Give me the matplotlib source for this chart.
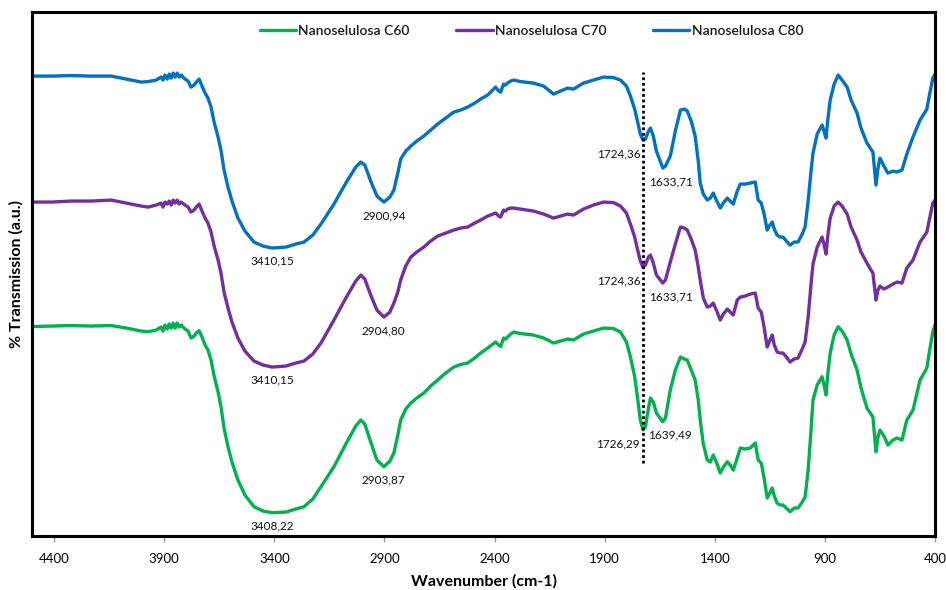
import numpy as np
import matplotlib
matplotlib.use("Agg")
import matplotlib.pyplot as plt

plt.rcParams['font.family'] = ['Lato', 'DejaVu Sans']

# --- FTIR spectra of nanocellulose samples (shared wavenumber grid, cm-1) ---
wavenumber = [
    4495, 4412, 4322, 4231, 4140, 4072, 4004, 3973, 3936, 3914,
    3905, 3896, 3886, 3877, 3868, 3859, 3850, 3841, 3832, 3823,
    3805, 3791, 3778, 3764, 3750, 3741, 3728, 3714, 3701, 3687,
    3673, 3655, 3642, 3628, 3610, 3592, 3565, 3533, 3492, 3451,
    3410, 3347, 3302, 3265, 3225, 3188, 3129, 3075, 3030, 3007,
    2989, 2962, 2934, 2902, 2875, 2857, 2839, 2826, 2803, 2780,
    2753, 2721, 2690, 2658, 2622, 2585, 2554, 2522, 2490, 2463,
    2431, 2395, 2381, 2372, 2359, 2350, 2341, 2327, 2313, 2282,
    2223, 2177, 2132, 2100, 2069, 2041, 2019, 1996, 1951, 1905,
    1860, 1828, 1801, 1783, 1765, 1751, 1738, 1726, 1715, 1701,
    1692, 1679, 1665, 1636, 1624, 1602, 1579, 1556, 1538, 1525,
    1507, 1489, 1475, 1466, 1452, 1434, 1420, 1407, 1393, 1375,
    1361, 1343, 1330, 1316, 1298, 1284, 1262, 1239, 1216, 1203,
    1189, 1176, 1162, 1153, 1139, 1130, 1117, 1103, 1090, 1071,
    1058, 1040, 1022, 1003, 990, 976, 963, 954, 935, 913,
    904, 895, 886, 876, 858, 840, 822, 799, 781, 754,
    736, 709, 691, 682, 675, 668, 659, 650, 632, 614,
    591, 573, 550, 528, 500, 468, 437, 428, 410, 400,
]

trans_c60 = [
    249.5, 250, 250.5, 250, 250.5, 248, 245, 244.3, 246, 249,
    245, 251, 247, 252, 248, 253, 248, 253, 249, 251,
    247, 245, 238, 240, 244, 245.3, 239, 231, 226, 216,
    200, 184, 169.3, 148, 129.3, 114, 96, 81, 69.3, 65,
    63.3, 64, 67, 69.3, 77, 89.3, 109.3, 132, 150, 156,
    152, 134, 116, 109.3, 115, 123, 141, 156, 167, 173,
    178, 183, 190, 196, 203, 209, 211.5, 213, 218, 223,
    228, 234, 231, 229.5, 238, 237, 239, 242, 244, 242.5,
    241, 238, 233, 235, 237, 236, 239, 242, 245, 248,
    247.5, 244, 234, 219, 201, 179, 156, 146, 149, 168,
    178, 174, 163, 154.3, 158, 186, 206, 219, 217, 216,
    206, 196, 176, 156, 132, 116, 114, 121, 114, 103,
    109, 114.3, 111, 106, 118, 128, 127, 128, 133, 116,
    113, 98, 78, 82, 88, 80, 73, 71, 71, 67,
    64.3, 68, 68, 74, 79, 106, 146, 176, 191, 199.3,
    191, 181, 204, 223, 241, 249.3, 245, 236, 222, 206,
    188, 168, 162, 159, 141, 124.3, 139, 146, 140, 131,
    136, 138, 136, 156, 166, 196, 208, 221, 244.3, 251,
]

trans_c70 = [
    250, 250, 251, 251, 252, 249, 246, 245, 247, 249,
    245, 250, 248, 251, 247, 252, 249, 252, 248, 250,
    247, 245, 240, 242, 246, 248, 241, 234, 229, 220,
    206, 192, 179, 160, 144, 130, 114, 101, 91, 87,
    85, 86, 89, 91, 98, 109, 132, 154, 171, 177,
    173, 157, 142, 135, 140, 149, 160, 172, 186, 195,
    200, 205, 211, 216, 219, 222, 224, 225, 229, 232,
    236, 239, 236, 235, 242, 241, 243, 244, 244, 243,
    241, 238, 234, 236, 238, 237, 240, 243, 247, 250,
    249.5, 246, 239, 228, 216, 203, 191, 185, 187, 195,
    197, 189, 177, 169, 172, 190, 208, 225, 224, 222,
    213, 202, 185, 172, 154, 145, 146, 149, 142, 132,
    138, 143, 140, 137, 152, 155, 156, 158, 159, 144,
    140, 125, 105, 110, 117, 107, 100, 99, 99, 94,
    90, 93, 94, 103, 110, 135, 168, 188, 205, 215,
    208, 198, 218, 234, 246, 250, 246, 238, 225, 212,
    200, 189, 182, 179, 165, 152, 162, 166, 163, 165,
    168, 170, 169, 184, 192, 210, 220, 230, 249, 252,
]

trans_c80 = [
    250, 250, 250.5, 250, 250, 247, 244, 244.5, 246, 249,
    246, 251, 247, 252, 248, 253, 249, 253, 249, 251,
    247, 245, 239, 241, 245, 247, 240, 233, 228, 219,
    204, 189, 176, 156, 139, 125, 108, 95, 84, 80,
    78, 79, 82, 84, 91, 102, 122, 143, 159, 164,
    161, 145, 130, 124, 129, 136, 153, 167, 175, 180,
    185, 190, 196, 202, 208, 214, 216, 219, 223, 227,
    231, 239, 235, 234, 242, 241, 243, 245, 246, 244.5,
    243, 240, 232, 235, 238, 237, 240, 243, 246, 249,
    248.5, 246, 240, 230, 218, 205, 192, 186, 187, 195,
    198, 190, 175, 158, 160, 170, 195, 216, 217, 215,
    205, 190, 165, 143, 132, 126, 128, 133, 126, 118,
    123, 128, 125, 122, 135, 142, 142, 143, 144, 126,
    123, 112, 96, 100, 104, 97, 91, 89, 89, 84,
    81, 84, 84, 92, 99, 125, 155, 173, 192, 201,
    195, 188, 208, 226, 242, 251, 246, 239, 226, 213,
    198, 183, 177, 174, 158, 141, 158, 168, 160, 153,
    155, 154, 156, 172, 189, 206, 217, 228, 248, 252,
]

# picked band positions (cm-1)
peaks_c60 = [3408.22, 2903.87, 1726.29, 1639.49]
peaks_c70 = [3410.15, 2904.80, 1724.36, 1633.71]
peaks_c80 = [3410.15, 2900.94, 1724.36, 1633.71]

series_names = ['Nanoselulosa C60', 'Nanoselulosa C70', 'Nanoselulosa C80']

# --- styling ---
COLORS = ['#00B050', '#7030A0', '#0070C0']
OFFSETS = [0, 124, 250]
# label placement around each band: (dx, dy) in pixels, horizontal alignment
LABEL_POS = [((0, -13), 'center'), ((0, -14), 'center'),
             ((-3, -14), 'right'), ((-14, -14), 'left')]

fig = plt.figure(figsize=(9.46, 5.90), dpi=100)
ax = fig.add_axes([0.0338, 0.0915, 0.9546, 0.888])

wn = np.array(wavenumber, dtype=float)
spectra = [trans_c60, trans_c70, trans_c80]
peak_sets = [peaks_c60, peaks_c70, peaks_c80]

for name, t, off, color, peaks in zip(series_names, spectra, OFFSETS, COLORS, peak_sets):
    y = np.array(t, dtype=float) + off
    ax.plot(wn, y, color=color, lw=2.4, label=name,
            solid_capstyle='round', solid_joinstyle='round')
    for p, ((dx, dy), ha) in zip(peaks, LABEL_POS):
        yp = np.interp(p, wn[::-1], y[::-1])
        ax.annotate(f"{p:.2f}".replace('.', ','), xy=(p, yp), xytext=(dx, dy),
                    textcoords='offset pixels', ha=ha, va='center',
                    fontsize=8.5, color='#111111')

# carbonyl band guide
ax.vlines(1726, 113, 504, colors='black', linestyles=(0, (1, 1)), lw=2)

ax.set_xlim(4500, 400)
ax.set_ylim(40, 564)
ax.set_xticks(np.arange(4400, 399, -500))
ax.set_yticks([])
ax.tick_params(axis='x', direction='out', length=4, width=1, color='#999999',
               labelsize=9.5, pad=8)

for s in ax.spines.values():
    s.set_color('black')
    s.set_linewidth(2.2)

ax.set_xlabel('Wavenumber (cm-1)', fontsize=11.5, fontweight='bold', labelpad=7)
ax.set_ylabel('% Transmission (a.u.)', fontsize=11.5, fontweight='bold', labelpad=6)

leg = ax.legend(loc='center', bbox_to_anchor=(0.553, 0.964), ncol=3, frameon=False,
                fontsize=10, handlelength=2.6, handletextpad=0.15, columnspacing=3.4,
                prop={'size': 10, 'weight': 'semibold'})
for txt in leg.get_texts():
    txt.set_color('#1a1a1a')

fig.savefig('out.png', dpi=100)
